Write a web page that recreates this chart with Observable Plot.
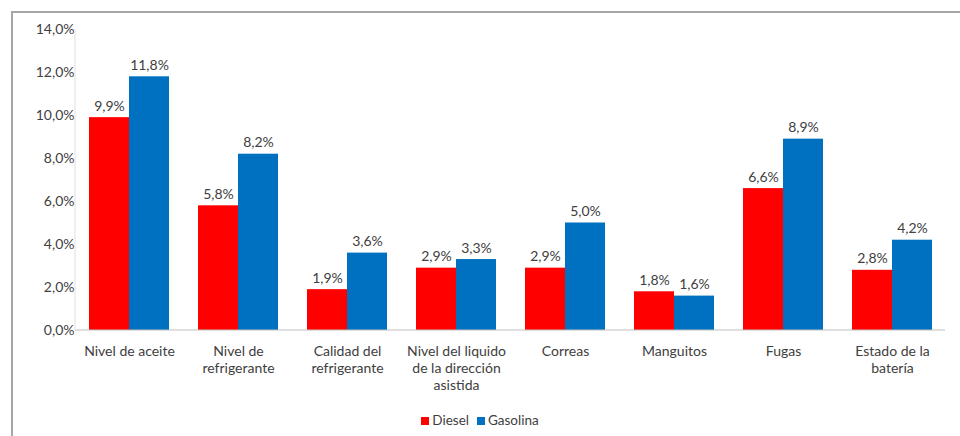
<!DOCTYPE html>
<html>
<head>
<meta charset="utf-8">
<script src="https://cdn.jsdelivr.net/npm/d3@7"></script>
<script src="https://cdn.jsdelivr.net/npm/@observablehq/plot@0.6"></script>
<style>
  html, body { margin: 0; padding: 0; background: #fff; overflow: hidden; width: 960px; height: 436px; }
  #frame { position: absolute; left: 11px; top: 11px; width: 949px; height: 425px;
           border-left: 2px solid #a6a6a6; border-top: 2px solid #a6a6a6; box-sizing: border-box; }
  #chart { position: absolute; left: 0; top: 0; width: 960px; height: 400px; }
  #legend { position: absolute; left: 0; top: 412px; width: 960px; text-align: center;
            font-family: Lato, sans-serif; font-size: 13.5px; color: #404040; }
  #legend span.sw { display: inline-block; width: 8px; height: 8px; margin-right: 3px; vertical-align: 0px; }
  #legend span.item { margin: 0 4px; }
</style>
</head>
<body>
<div id="frame"></div>
<div id="chart"></div>
<div id="legend"></div>
<script>
const categories = ["Nivel de aceite", "Nivel de refrigerante", "Calidad del refrigerante",
  "Nivel del liquido de la dirección asistida", "Correas", "Manguitos", "Fugas", "Estado de la batería"];
const categoryLabels = ["Nivel de aceite", "Nivel de\nrefrigerante", "Calidad del\nrefrigerante",
  "Nivel del liquido\nde la dirección\nasistida", "Correas", "Manguitos", "Fugas", "Estado de la\nbatería"];
const series = ["Diesel", "Gasolina"];
const diesel = [9.9, 5.8, 1.9, 2.9, 2.9, 1.8, 6.6, 2.8];
const gasolina = [11.8, 8.2, 3.6, 3.3, 5.0, 1.6, 8.9, 4.2];
const yTicks = [0, 2, 4, 6, 8, 10, 12, 14];
const colors = ["#ff0000", "#0070c0"];

const data = [];
categories.forEach((c, i) => {
  data.push({category: c, series: "Diesel", value: diesel[i]});
  data.push({category: c, series: "Gasolina", value: gasolina[i]});
});

const fmt = d => d.toFixed(1).replace(".", ",") + "%";
const labelOf = new Map(categories.map((c, i) => [c, categoryLabels[i]]));

const W = 960, H = 400, ML = 75, MR = 15, MT = 29, MB = 70;

const plot = Plot.plot({
  width: W,
  height: H,
  marginLeft: ML,
  marginRight: MR,
  marginTop: MT,
  marginBottom: MB,
  style: {fontFamily: "Lato, sans-serif", fontSize: "14px", color: "#404040", background: "transparent"},
  fx: {domain: categories, paddingInner: 0.267, paddingOuter: 0.12, label: null},
  x: {domain: series, padding: 0, axis: null},
  y: {domain: [0, 14], label: null},
  color: {domain: series, range: colors},
  marks: [
    Plot.barY(data, {fx: "category", x: "series", y: "value", fill: "series", inset: 0}),
    Plot.text(data, {fx: "category", x: "series", y: "value", text: d => fmt(d.value),
      dy: -7, lineAnchor: "bottom", fill: "#404040", fontSize: 14}),
    Plot.axisY({ticks: yTicks, tickFormat: fmt, tickSize: 0, tickPadding: 15, fontSize: 14, label: null}),
    Plot.axisFx({anchor: "bottom", tickSize: 0, tickPadding: 14, tickFormat: c => labelOf.get(c),
      lineHeight: 1.2, fontSize: 14, label: null})
  ]
});
document.getElementById("chart").appendChild(plot);

// axis lines, positioned through the plot's own y scale
const yScale = plot.scale("y");
const y0 = yScale.apply(0), yTop = yScale.apply(14);
const svg = d3.select(plot);
svg.append("line").attr("x1", ML).attr("x2", W - MR).attr("y1", y0).attr("y2", y0)
  .attr("stroke", "#c0c0c0");
svg.append("line").attr("x1", ML).attr("x2", ML).attr("y1", yTop).attr("y2", y0)
  .attr("stroke", "#e0e0e0");

const legend = document.getElementById("legend");
legend.innerHTML = series.map((s, i) =>
  `<span class="item"><span class="sw" style="background:${colors[i]}"></span>${s}</span>`).join("");
</script>
</body>
</html>
